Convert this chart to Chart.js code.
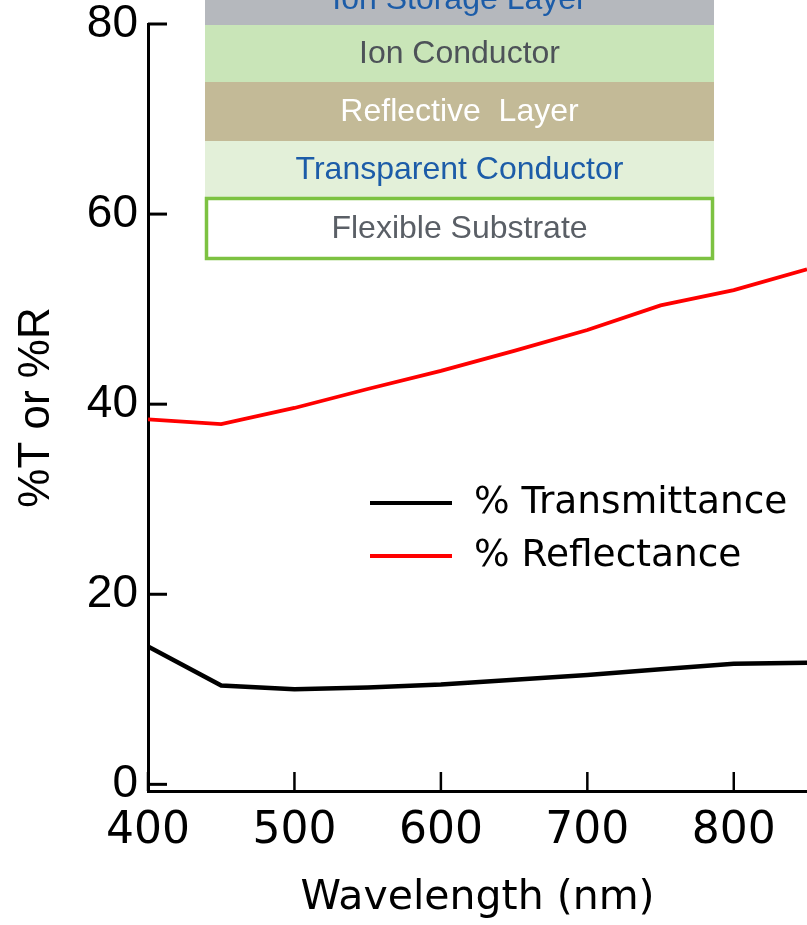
<!DOCTYPE html>
<html><head><meta charset="utf-8">
<script src="https://cdn.jsdelivr.net/npm/chart.js@4/dist/chart.umd.min.js"></script>
<style>html,body{margin:0;padding:0;background:#fff;overflow:hidden}#wrap{width:807px;height:925px;position:relative}</style>
</head><body><div id="wrap"><canvas id="c" width="807" height="925"></canvas></div>
<script>
// ---- data ----
const wavelengths   = [400, 450, 500, 550, 600, 650, 700, 750, 800, 850];
const transmittance = [14.5, 10.4, 10.0, 10.2, 10.5, 11.0, 11.5, 12.1, 12.7, 12.8];
const reflectance   = [38.4, 37.9, 39.6, 41.6, 43.5, 45.6, 47.8, 50.4, 52.0, 54.2];
const seriesLabels  = ['% Transmittance', '% Reflectance'];
const xTickValues   = [400, 500, 600, 700, 800];
const yTickValues   = [0, 20, 40, 60, 80];
const xTitle = 'Wavelength (nm)';
const yTitle = '%T or %R';
const layerNames = ['Ion Storage Layer', 'Ion Conductor', 'Reflective  Layer', 'Transparent Conductor', 'Flexible Substrate'];

// ---- styles ----
const layerStyle = {
  left: 205, right: 714,
  edges: [-27, 25, 82, 141, 197, 260],
  fills: ['#b5b8bd', '#c9e5b8', '#c3ba97', '#e3f0d9', '#ffffff'],
  text:  ['#1c5ca8', '#4d5258', '#ffffff', '#1c5ca8', '#5a5f66'],
  border: '#7dc242'
};

const toPts = (xs, ys) => xs.map((x, i) => ({x, y: ys[i]}));

const layerPlugin = {
  id: 'layers',
  afterDraw(chart) {
    const ctx = chart.ctx;
    const L = layerStyle;
    ctx.save();
    layerNames.forEach((name, i) => {
      const top = L.edges[i], bot = L.edges[i + 1];
      ctx.fillStyle = L.fills[i];
      ctx.fillRect(L.left, top, L.right - L.left, bot - top);
      if (i === layerNames.length - 1) {
        ctx.strokeStyle = L.border; ctx.lineWidth = 3.5;
        ctx.strokeRect(L.left + 1.5, top + 1.5, L.right - L.left - 3, bot - top - 3);
      }
      ctx.fillStyle = L.text[i];
      ctx.font = '32px "Liberation Sans", Arial, sans-serif';
      ctx.textAlign = 'center'; ctx.textBaseline = 'middle';
      ctx.fillText(name, (L.left + L.right) / 2, (top + bot) / 2 + 1);
    });
    ctx.restore();
  }
};

const inwardTicks = {
  id: 'inwardTicks',
  afterDraw(chart) {
    const {ctx, chartArea, scales: {x, y}} = chart;
    ctx.save(); ctx.strokeStyle = '#000'; ctx.lineCap = 'butt';
    ctx.lineWidth = 3;
    y.ticks.forEach(t => {
      const py = y.getPixelForValue(t.value);
      ctx.beginPath(); ctx.moveTo(chartArea.left, py); ctx.lineTo(chartArea.left + 19, py); ctx.stroke();
    });
    ctx.lineWidth = 2.5;
    x.ticks.forEach(t => {
      const px = x.getPixelForValue(t.value);
      ctx.beginPath(); ctx.moveTo(px, chartArea.bottom); ctx.lineTo(px, chartArea.bottom - 19); ctx.stroke();
    });
    ctx.restore();
  }
};

const legendPlugin = {
  id: 'inLegend',
  afterDraw(chart) {
    const ctx = chart.ctx;
    ctx.save();
    chart.data.datasets.forEach((ds, i) => {
      const yy = 503 + i * 53;
      ctx.strokeStyle = ds.borderColor; ctx.lineWidth = 4;
      ctx.beginPath(); ctx.moveTo(370, yy); ctx.lineTo(452, yy); ctx.stroke();
      ctx.fillStyle = '#000';
      ctx.font = '37.5px "DejaVu Sans", sans-serif';
      ctx.textAlign = 'left'; ctx.textBaseline = 'middle';
      ctx.fillText(ds.label, 474, yy);
    });
    ctx.restore();
  }
};

Chart.defaults.color = '#000';

new Chart(document.getElementById('c'), {
  type: 'line',
  data: {
    datasets: [
      { label: seriesLabels[0], data: toPts(wavelengths, transmittance), borderColor: '#000000', borderWidth: 4.5, pointRadius: 0, tension: 0, fill: false },
      { label: seriesLabels[1], data: toPts(wavelengths, reflectance), borderColor: '#ff0000', borderWidth: 3.8, pointRadius: 0, tension: 0, fill: false }
    ]
  },
  options: {
    responsive: false,
    devicePixelRatio: 1,
    animation: false,
    layout: { padding: { top: 24, right: 0, bottom: 0, left: 0 } },
    plugins: { legend: { display: false }, tooltip: { enabled: false } },
    scales: {
      x: {
        type: 'linear', min: 400, max: 850,
        afterBuildTicks: s => { s.ticks = xTickValues.map(v => ({value: v})); },
        afterFit: s => { s.height = 134; s.paddingLeft = 0; s.paddingRight = 0; },
        grid: { display: true, drawOnChartArea: false, drawTicks: false },
        border: { display: true, color: '#000', width: 3 },
        ticks: { padding: 14, maxRotation: 0, autoSkip: false, font: { family: '"DejaVu Sans", sans-serif', size: 44 } },
        title: { display: true, text: xTitle, padding: { top: 0, bottom: 2 }, font: { family: '"DejaVu Sans", sans-serif', size: 41 } }
      },
      y: {
        type: 'linear', min: -0.7, max: 80,
        afterBuildTicks: s => { s.ticks = yTickValues.map(v => ({value: v})); },
        afterFit: s => { s.width = 148; s.paddingTop = 0; s.paddingBottom = 0; },
        grid: { display: true, drawOnChartArea: false, drawTicks: false },
        border: { display: true, color: '#000', width: 3 },
        ticks: { padding: 10, font: { family: '"Liberation Sans", Arial, sans-serif', size: 46, lineHeight: 1 } },
        title: { display: true, text: yTitle, padding: { top: 10, bottom: 0 }, font: { family: '"Liberation Sans", Arial, sans-serif', size: 44 } }
      }
    }
  },
  plugins: [layerPlugin, inwardTicks, legendPlugin]
});
</script>
</body></html>
